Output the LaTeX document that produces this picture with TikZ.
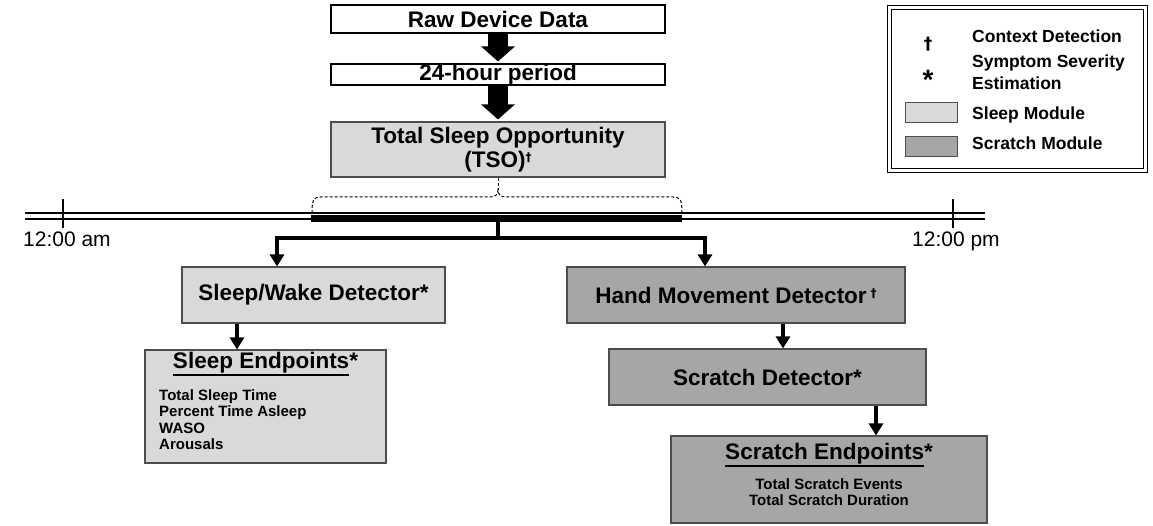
\documentclass[tikz,border=0pt]{standalone}
\usepackage{fontspec}
\setmainfont{Liberation Sans}
\newfontfamily\dagfont{DejaVu Sans}
\usetikzlibrary{arrows.meta}
\definecolor{lgray}{HTML}{D9D9D9}
\definecolor{dgray}{HTML}{A6A6A6}
\definecolor{edgegray}{HTML}{4D4D4D}
\newcommand\fBig{\fontsize{22.5}{24}\selectfont\bfseries}
\newcommand\fSmall{\fontsize{15}{16.5}\selectfont\bfseries}
\newcommand\fLeg{\fontsize{17.5}{21}\selectfont\bfseries}
\newcommand\fTime{\fontsize{21}{24}\selectfont}
\newcommand\smdag{\raisebox{6pt}{\dagfont\fontsize{12}{12}\selectfont\bfseries †}}
\newcommand\myul[1]{\setbox0=\hbox{#1}\leavevmode\rlap{\rule[-8pt]{\wd0}{2pt}}\box0}
\begin{document}
\begin{tikzpicture}[x=1pt,y=-1pt,
  box/.style={draw=edgegray, line width=1.1pt, inner sep=0pt, font=\fBig, align=center},
  wbox/.style={box, draw=black, fill=white},
  lbox/.style={box, fill=lgray},
  dbox/.style={box, fill=dgray},
  blockarrow/.style={line width=20pt, -{Triangle[width=33pt,length=15pt]}},
  conn/.style={line width=4pt, -{Triangle[width=14pt,length=12pt]}},
  treeline/.style={line width=3.3pt},
  treearrow/.style={line width=3.3pt, -{Triangle[width=14pt,length=12pt]}},
  brace/.style={dash pattern=on 3pt off 2pt, line width=1pt},
  itemtxt/.style={font=\fSmall, inner sep=0pt},
  legtxt/.style={font=\fLeg, inner sep=0pt, anchor=base west},
  swatch/.style={draw=edgegray, line width=1pt, minimum width=52pt, minimum height=20pt, inner sep=0pt}]
\useasboundingbox (0,0) rectangle (1153,526);

% top chain
\node[wbox, minimum width=334pt, minimum height=28pt] (raw) at (498,19) {Raw Device Data};
\node[wbox, minimum width=334pt, minimum height=21pt] (h24) at (498,74.5) {24-hour period};
\node[lbox, minimum width=334pt, minimum height=55pt] (tso) at (498,149.5) {Total Sleep Opportunity\\(TSO)\smdag};
\draw[blockarrow, shorten >=2pt] (raw.south) -- (h24.north);
\draw[blockarrow, shorten >=2pt] (h24.south) -- (tso.north);

% timeline
\coordinate (tlL) at (25,216);
\coordinate (tlR) at (985,216);
\draw[line width=1.2pt, double=white, double distance=4.8pt] (tlL) -- (tlR);
\coordinate (tAm) at (63,199);
\coordinate (tPm) at (953,199);
\draw[line width=1.2pt] (tAm) -- ++(0,29);
\draw[line width=1.2pt] (tPm) -- ++(0,29);
\node[font=\fTime, inner sep=0pt, anchor=base west] (lblAm) at (23,247) {12:00 am};
\node[font=\fTime, inner sep=0pt, anchor=base west] (lblPm) at (912,247) {12:00 pm};
\coordinate (barL) at (311,218.5);
\coordinate (barR) at (682,218.5);
\draw[line width=6.5pt] (barL) -- (barR);

% dashed brace
\coordinate (bracetip) at (498,190);
\draw[brace] (tso.south) -- (bracetip);
\draw[brace] (312,213) .. controls (312,201) and (313,197) .. (321,197) -- (490,197)
  .. controls (495,197) and (498,195) .. (bracetip)
  .. controls (498,195) and (501,197) .. (506,197) -- (673,197)
  .. controls (681,197) and (682,201) .. (682,213);

% lower boxes
\node[lbox, minimum width=263pt, minimum height=56pt] (sw) at (313.5,295) {Sleep/Wake Detector*};
\node[dbox, minimum width=338pt, minimum height=56pt] (hm) at (736,295) {Hand Movement Detector\,\smdag};
\node[lbox, minimum width=241pt, minimum height=113pt] (se) at (265.5,406.5) {};
\node[dbox, minimum width=317pt, minimum height=56pt] (sd) at (767.5,377) {Scratch Detector*};
\node[dbox, minimum width=316pt, minimum height=87pt] (sce) at (829,479.5) {};

% tree connector
\coordinate (barM) at (498,221);
\coordinate (split) at (498,238);
\coordinate (brL) at (277,0);
\coordinate (brR) at (705,0);
\draw[treeline] (barM) -- (split);
\draw[treearrow] (split) -| (brL |- sw.north);
\draw[treearrow] (split) -| (brR |- hm.north);

% short arrows
\coordinate (xSE) at (237,0);
\coordinate (xSD) at (783,0);
\coordinate (xSCE) at (876,0);
\draw[conn] (xSE |- sw.south) -- (xSE |- se.north);
\draw[conn] (xSD |- hm.south) -- (xSD |- sd.north);
\draw[conn] (xSCE |- sd.south) -- (xSCE |- sce.north);

% sleep endpoints text
\node[font=\fBig, inner sep=0pt, anchor=base] (seT) at (265.5,368) {\myul{Sleep Endpoints}*};
\node[itemtxt, anchor=base west] (se1) at (159,400) {Total Sleep Time};
\node[itemtxt, anchor=base west] (se2) at (159,416.5) {Percent Time Asleep};
\node[itemtxt, anchor=base west] (se3) at (159,433) {WASO};
\node[itemtxt, anchor=base west] (se4) at (159,449.5) {Arousals};

% scratch endpoints text
\node[font=\fBig, inner sep=0pt, anchor=base] (sceT) at (829,459) {\myul{Scratch Endpoints}*};
\node[itemtxt, anchor=base] (sce1) at (829,489) {Total Scratch Events};
\node[itemtxt, anchor=base] (sce2) at (829,505) {Total Scratch Duration};

% legend
\node[draw=black, line width=1.1pt, double=white, double distance=2.6pt, minimum width=256pt, minimum height=163pt, inner sep=0pt] (legend) at (1017.5,89) {};
\node[font=\dagfont\fontsize{17}{17}\selectfont\bfseries, inner sep=0pt] (legDag) at (928,44) {†};
\node[font=\fontsize{28}{28}\selectfont\bfseries, inner sep=0pt, anchor=base] (legAst) at (928,90) {*};
\node[swatch, fill=lgray] (swL) at (931,113) {};
\node[swatch, fill=dgray] (swD) at (931,147) {};
\node[legtxt] (lt1) at (972,43) {Context Detection};
\node[legtxt] (lt2) at (972,68) {Symptom Severity};
\node[legtxt] (lt3) at (972,90) {Estimation};
\node[legtxt] (lt4) at (972,120) {Sleep Module};
\node[legtxt] (lt5) at (972,150) {Scratch Module};
\end{tikzpicture}
\end{document}
